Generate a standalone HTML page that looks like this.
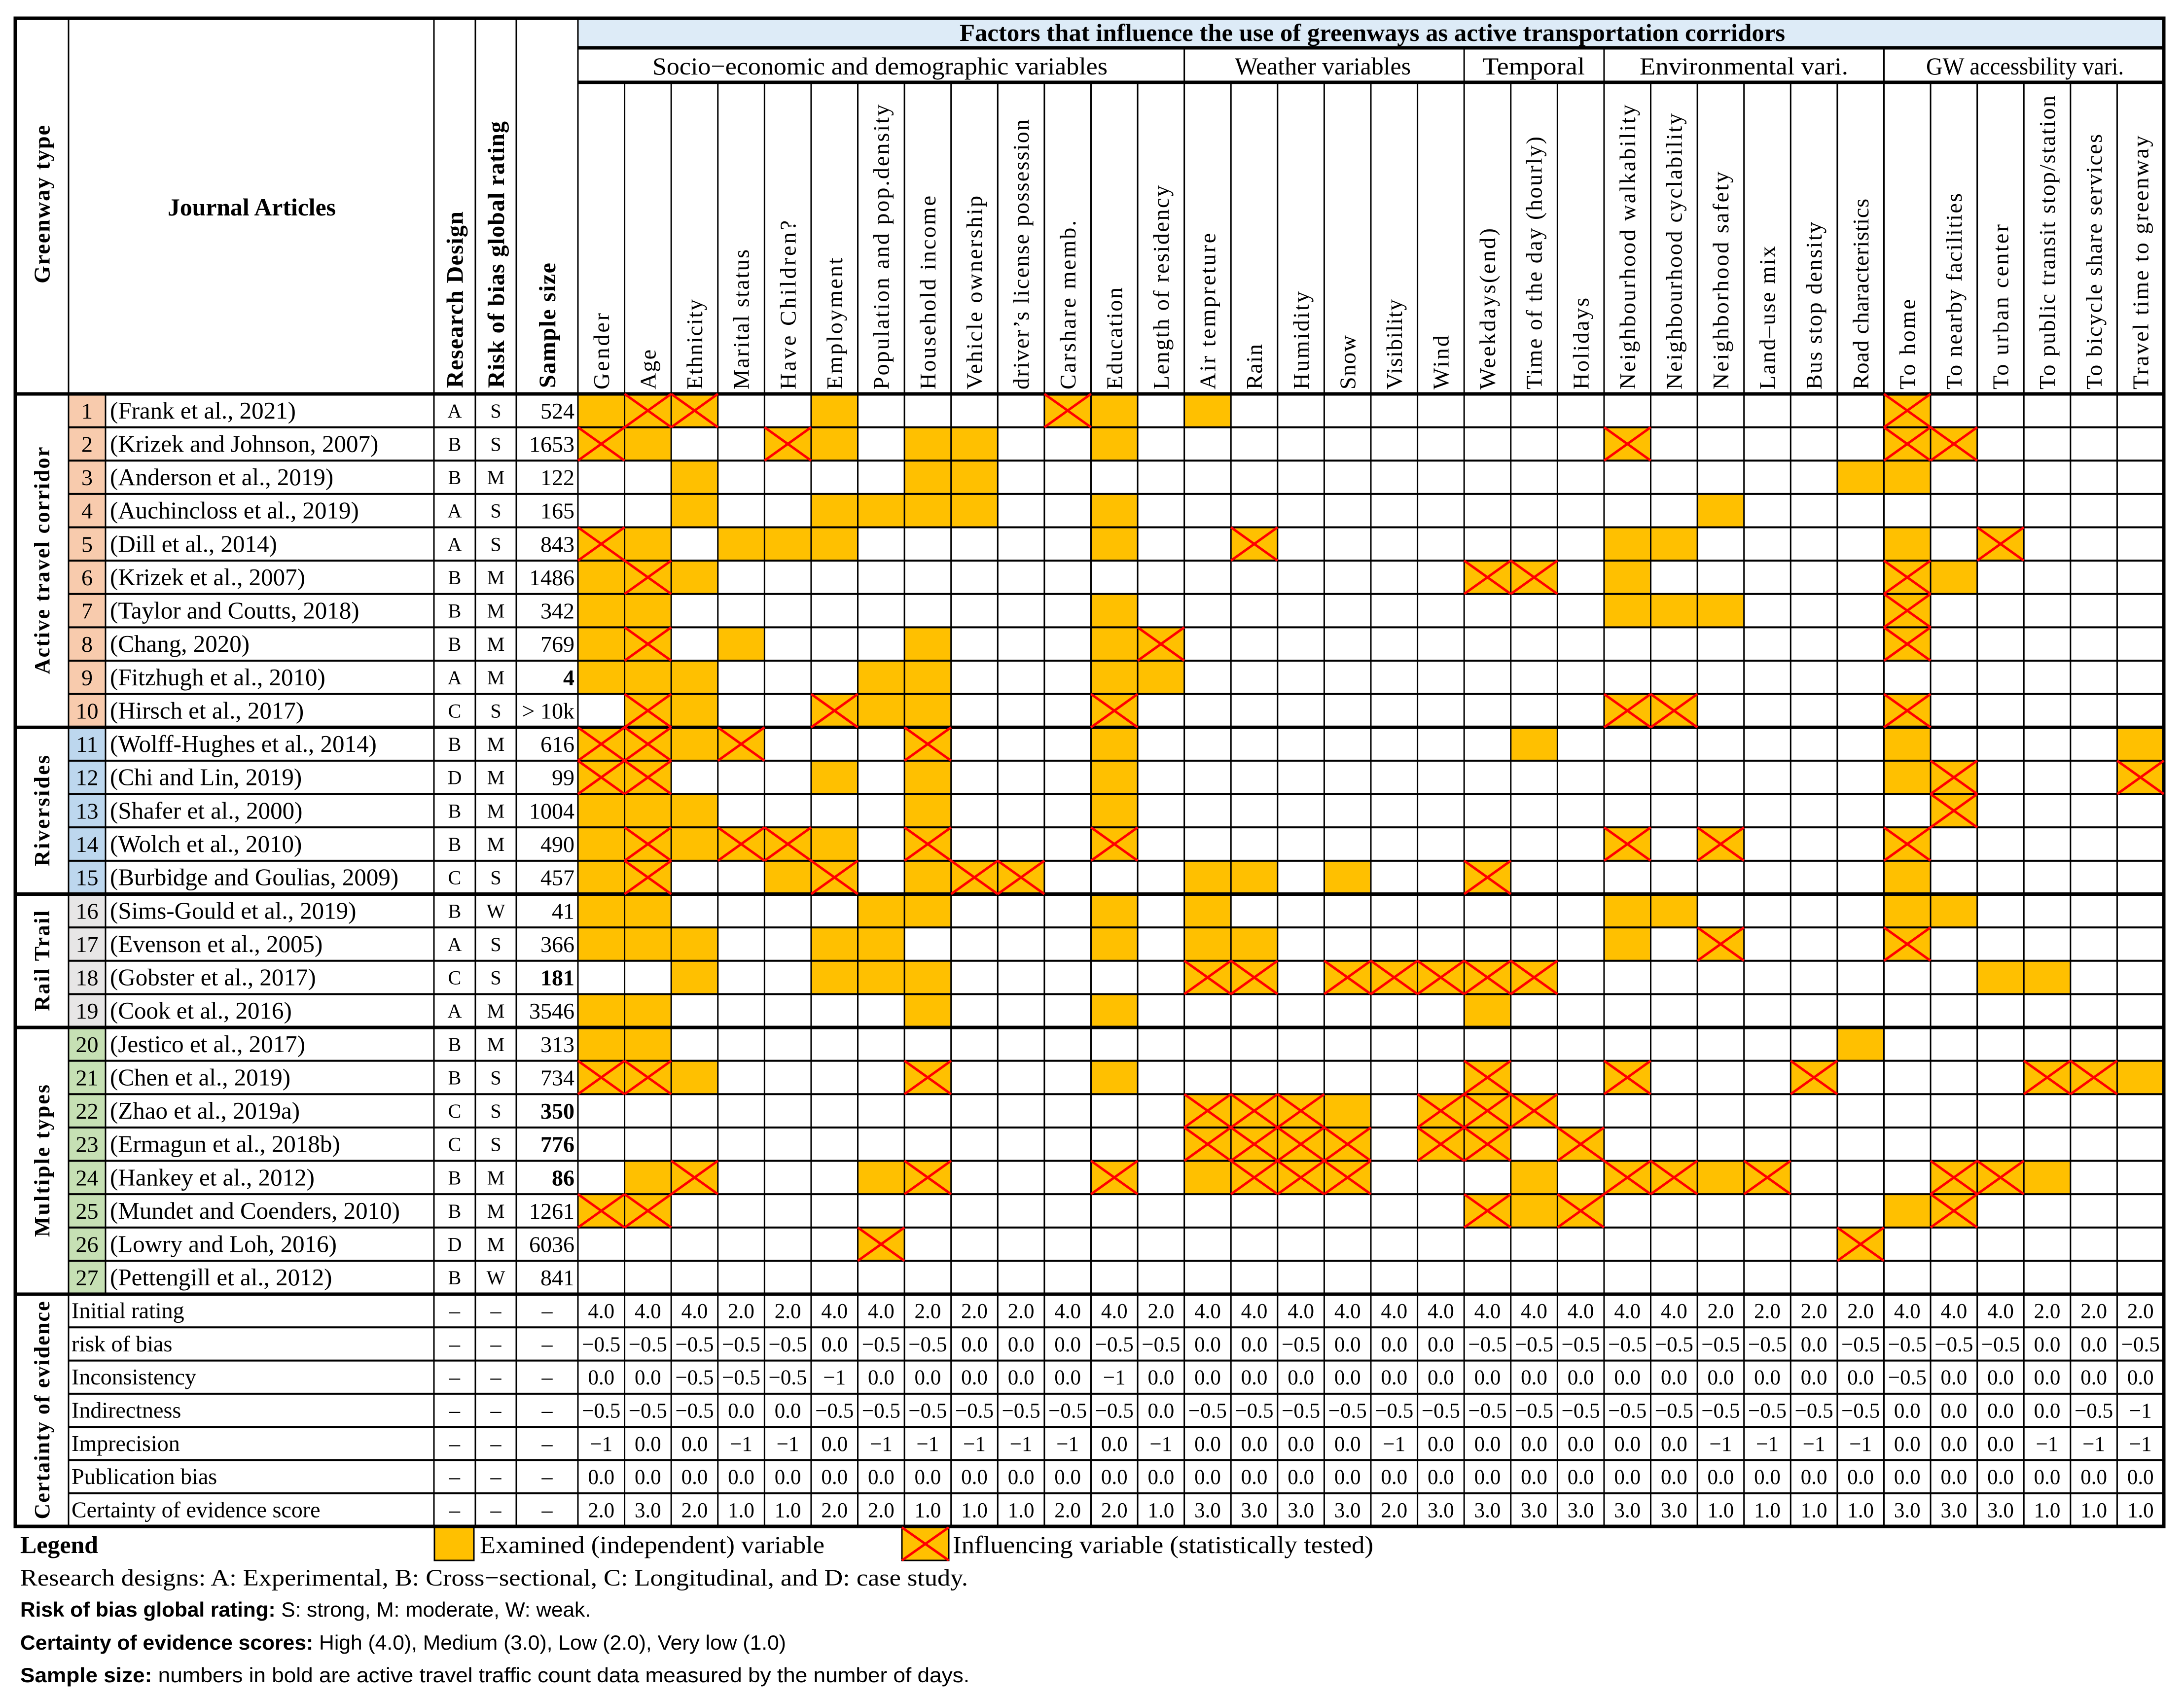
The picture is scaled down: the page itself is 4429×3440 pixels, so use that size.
<!DOCTYPE html>
<html><head><meta charset="utf-8"><title>Greenway factors table</title>
<style>html,body{margin:0;padding:0;background:#fff;overflow:hidden}svg{display:block}</style>
</head><body>
<svg id="chart" xmlns="http://www.w3.org/2000/svg" width="4429" height="3440" viewBox="0 0 4429 3440"></svg>
<script>
// ---------- data ----------
const factorNames = ["Gender","Age","Ethnicity","Marital status","Have Children?","Employment","Population and pop.density","Household income","Vehicle ownership","driver\u2019s license possession","Carshare memb.","Education","Length of residency","Air tempreture","Rain","Humidity","Snow","Visibility","Wind","Weekdays(end)","Time of the day (hourly)","Holidays","Neighbourhood walkability","Neighbourhood cyclability","Neighborhood safety","Land\u2013use mix","Bus stop density","Road characteristics","To home","To nearby facilities","To urban center","To public transit stop/station","To bicycle share services","Travel time to greenway"];
const headerTops = [635,709,607,506,447,523,212,397,397,242,447,583,376,473,698,591,680,607,680,463,277,604,212,230,348,499,450,403,607,392,455,194,272,275];
const groupLabels = ["Socio\u2212economic and demographic variables","Weather variables","Temporal","Environmental vari.","GW accessbility vari."];
const groupStarts = [0,13,19,22,28];
const groupEnds = [13,19,22,28,34];
const articleNames = ["(Frank et al., 2021)","(Krizek and Johnson, 2007)","(Anderson et al., 2019)","(Auchincloss et al., 2019)","(Dill et al., 2014)","(Krizek et al., 2007)","(Taylor and Coutts, 2018)","(Chang, 2020)","(Fitzhugh et al., 2010)","(Hirsch et al., 2017)","(Wolff-Hughes et al., 2014)","(Chi and Lin, 2019)","(Shafer et al., 2000)","(Wolch et al., 2010)","(Burbidge and Goulias, 2009)","(Sims-Gould et al., 2019)","(Evenson et al., 2005)","(Gobster et al., 2017)","(Cook et al., 2016)","(Jestico et al., 2017)","(Chen et al., 2019)","(Zhao et al., 2019a)","(Ermagun et al., 2018b)","(Hankey et al., 2012)","(Mundet and Coenders, 2010)","(Lowry and Loh, 2016)","(Pettengill et al., 2012)"];
const designs = ["A","B","B","A","A","B","B","B","A","C","B","D","B","B","C","B","A","C","A","B","B","C","C","B","B","D","B"];
const risks = ["S","S","M","S","S","M","M","M","M","S","M","M","M","M","S","W","S","S","M","M","S","S","S","M","M","M","W"];
const samples = ["524","1653","122","165","843","1486","342","769","4","> 10k","616","99","1004","490","457","41","366","181","3546","313","734","350","776","86","1261","6036","841"];
const sampleBold = [0,0,0,0,0,0,0,0,1,0,0,0,0,0,0,0,0,1,0,0,0,1,1,1,0,0,0];
// cells: '.' empty, 'b' examined, 'x' influencing ; segments | separated
const cells = [
"bxx..b....xb.|b.....|...|......|x.....",
"xb..xb.bb..b.|......|...|x.....|xx....",
"..b....bb....|......|...|.....b|b.....",
"..b..bbbb..b.|......|...|..b...|......",
"xb.bbb.....b.|.x....|...|bb....|b.x...",
"bxb..........|......|xx.|b.....|xb....",
"bb.........b.|......|...|bbb...|x.....",
"bx.b...b...bx|......|...|......|x.....",
"bbb...bb...bb|......|...|......|......",
".xb..xbb...x.|......|...|xx....|x.....",
"xxbx...x...b.|......|.b.|......|b....b",
"xx...b.b...b.|......|...|......|bx...x",
"bbb....b...b.|......|...|......|.x....",
"bxbxxb.x...x.|......|...|x.x...|x.....",
"bx..bx.bxx...|bb.b..|x..|......|b.....",
"bb....bb...b.|b.....|...|bb....|bb....",
"bbb..bb....b.|bb....|...|b.x...|x.....",
"..b..bbb.....|xx.xxx|xx.|......|..bb..",
"bb.....b...b.|......|b..|......|......",
"bb...........|......|...|.....b|......",
"xxb....x...b.|......|x..|x...x.|...xxb",
".............|xxxb.x|xx.|......|......",
".............|xxxx.x|x.x|......|......",
".bx...bx...x.|bxxx..|.b.|xxbx..|.xxb..",
"xx...........|......|xbx|......|bx....",
"......x......|......|...|.....x|......",
".............|......|...|......|......"
];
const greenwayTypes = ["Active travel corridor","Riversides","Rail Trail","Multiple types"];
const greenwayStart = [0,10,15,19];
const greenwayEnd = [10,15,19,27];
const greenwayColors = ["#F8CBAD","#BDD7EE","#E7E6E6","#C6E0B4"];
const greenwayLabelLen = [461,225,204,309];
const certLabels = ["Initial rating","risk of bias","Inconsistency","Indirectness","Imprecision","Publication bias","Certainty of evidence score"];
const initialRating = [4,4,4,2,2,4,4,2,2,2,4,4,2, 4,4,4,4,4,4, 4,4,4, 4,4,2,2,2,2, 4,4,4,2,2,2];
const riskOfBias = [-.5,-.5,-.5,-.5,-.5,0,-.5,-.5,0,0,0,-.5,-.5, 0,0,-.5,0,0,0, -.5,-.5,-.5, -.5,-.5,-.5,-.5,0,-.5, -.5,-.5,-.5,0,0,-.5];
const inconsistency = [0,0,-.5,-.5,-.5,-1,0,0,0,0,0,-1,0, 0,0,0,0,0,0, 0,0,0, 0,0,0,0,0,0, -.5,0,0,0,0,0];
const indirectness = [-.5,-.5,-.5,0,0,-.5,-.5,-.5,-.5,-.5,-.5,-.5,0, -.5,-.5,-.5,-.5,-.5,-.5, -.5,-.5,-.5, -.5,-.5,-.5,-.5,-.5,-.5, 0,0,0,0,-.5,-1];
const imprecision = [-1,0,0,-1,-1,0,-1,-1,-1,-1,-1,0,-1, 0,0,0,0,-1,0, 0,0,0, 0,0,-1,-1,-1,-1, 0,0,0,-1,-1,-1];
const publicationBias = [0,0,0,0,0,0,0,0,0,0,0,0,0, 0,0,0,0,0,0, 0,0,0, 0,0,0,0,0,0, 0,0,0,0,0,0];
const certaintyScore = [2,3,2,1,1,2,2,1,1,1,2,2,1, 3,3,3,3,2,3, 3,3,3, 3,3,1,1,1,1, 3,3,3,1,1,1];
const certRows = [initialRating,riskOfBias,inconsistency,indirectness,imprecision,publicationBias,certaintyScore];

// ---------- geometry ----------
const NS = "http://www.w3.org/2000/svg";
const svg = document.getElementById("chart");
const L = 31, R = 4388, TOP = 37, XG = 139, XN = 214, XRD = 880, XRK = 964, XSS = 1047, XF = 1172;
const CW = (R - XF) / 34;
const Y_TITLE = 97, Y_GROUP = 167, Y_DATA = 799, Y_CERT = 2625, Y_END = 3096;
const RH = (Y_CERT - Y_DATA) / 27, CH = (Y_END - Y_CERT) / 7;
const SERIF = '"Liberation Serif", "DejaVu Serif", serif';
const SANS = '"Liberation Sans", "DejaVu Sans", sans-serif';
const colX = i => XF + i * CW;
const rowY = r => Y_DATA + r * RH;
const certY = r => Y_CERT + r * CH;

function mk(tag, attrs, name) {
  const el = document.createElementNS(NS, tag);
  for (const k in attrs) el.setAttribute(k, attrs[k]);
  
  
  svg.appendChild(el);
  return el;
}
function txt(s, x, y, fs, name, extra) {
  const a = {x: x, y: y, 'font-size': fs, 'font-family': SERIF, fill: '#000'};
  if (extra) for (const k in extra) a[k] = extra[k];
  const el = mk('text', a, name);
  el.textContent = s;
  return el;
}
function line(x1, y1, x2, y2, w, name) {
  return mk('line', {x1: x1, y1: y1, x2: x2, y2: y2, stroke: '#000', 'stroke-width': w}, name);
}
function fmt(v) {
  if (v === -1) return "\u22121";
  return (v < 0 ? "\u2212" : "") + Math.abs(v).toFixed(1);
}

// ---------- fills ----------
mk('rect', {x: XF, y: TOP, width: R - XF, height: Y_TITLE - TOP, fill: '#DDEBF7'}, 'title-row-background');
for (let g = 0; g < greenwayTypes.length; g++) {
  for (let r = greenwayStart[g]; r < greenwayEnd[g]; r++) {
    mk('rect', {x: XG, y: rowY(r), width: XN - XG, height: RH, fill: greenwayColors[g]}, 'row-number-cell');
  }
}
const crosses = [];
for (let r = 0; r < cells.length; r++) {
  const row = cells[r].replace(/\|/g, '');
  for (let c = 0; c < row.length; c++) {
    const ch = row[c];
    if (ch === 'b' || ch === 'x') {
      mk('rect', {x: colX(c), y: rowY(r), width: CW, height: RH, fill: '#FFC000'}, ch === 'x' ? 'influencing-cell' : 'examined-cell');
      if (ch === 'x') crosses.push([r, c]);
    }
  }
}

// ---------- grid ----------
const TH = 3, TK = 7;
line(XF, Y_TITLE, R, Y_TITLE, TK, 'title-bottom-rule');
line(XF, Y_GROUP, R, Y_GROUP, TK, 'group-bottom-rule');
[XG, XRD, XRK, XSS, XF].forEach(x => line(x, TOP, x, Y_END, TH, 'column-rule'));
line(XN, Y_DATA, XN, Y_CERT, TH, 'number-column-rule');
for (let c = 1; c < 34; c++) {
  const isGroup = groupStarts.indexOf(c) >= 0;
  line(colX(c), isGroup ? Y_TITLE : Y_GROUP, colX(c), Y_END, TH, isGroup ? 'group-divider' : 'factor-column-rule');
}
for (let r = 1; r < 27; r++) {
  const isGroup = greenwayStart.indexOf(r) >= 0;
  line(isGroup ? L : XG, rowY(r), R, rowY(r), isGroup ? TK : 4, isGroup ? 'greenway-group-rule' : 'row-rule');
}
for (let r = 1; r < 7; r++) line(XG, certY(r), R, certY(r), 4, 'certainty-row-rule');
line(L, Y_DATA, R, Y_DATA, TK, 'header-bottom-rule');
line(L, Y_CERT, R, Y_CERT, TK, 'certainty-top-rule');
mk('rect', {x: L, y: TOP, width: R - L, height: Y_END - TOP, fill: 'none', stroke: '#000', 'stroke-width': TK}, 'table-border');

// ---------- crosses ----------
crosses.forEach(([r, c]) => {
  const x0 = colX(c), y0 = rowY(r);
  mk('path', {d: `M${x0},${y0}L${x0 + CW},${y0 + RH}M${x0 + CW},${y0}L${x0},${y0 + RH}`, stroke: '#FF0000', 'stroke-width': 5, fill: 'none'}, 'influence-cross');
});

// ---------- header text ----------
txt("Factors that influence the use of greenways as active transportation corridors", 1946, 83, 50, 'table-title', {'font-weight': 'bold', textLength: 1674, lengthAdjust: 'spacingAndGlyphs'});
const groupTextStart = [1323, 2504, 3006, 3325, 3906];
const groupTextLen = [923, 357, 208, 423, 401];
for (let g = 0; g < groupLabels.length; g++) {
  txt(groupLabels[g], groupTextStart[g], 151, 50, 'factor-group-label', {textLength: groupTextLen[g], lengthAdjust: 'spacingAndGlyphs'});
}
txt("Journal Articles", 340, 437, 50, 'journal-articles-header', {'font-weight': 'bold', textLength: 341, lengthAdjust: 'spacingAndGlyphs'});
function vtext(s, cx, bottom, len, fs, name, bold, adj) {
  const el = txt(s, 0, 0, fs, name, {transform: `translate(${cx + fs * 0.34},${bottom}) rotate(-90)`, textLength: len, lengthAdjust: adj || 'spacingAndGlyphs'});
  if (bold) el.setAttribute('font-weight', 'bold');
  return el;
}
vtext("Greenway type", 85, 575, 321, 46, 'greenway-type-header', true, 'spacing');
vtext("Research Design", (XRD + XRK) / 2, 787, 358, 48, 'research-design-header', true, 'spacing');
vtext("Risk of bias global rating", (XRK + XSS) / 2, 787, 541, 48, 'risk-of-bias-header', true, 'spacing');
vtext("Sample size", (XSS + XF) / 2, 787, 254, 48, 'sample-size-header', true, 'spacing');
for (let c = 0; c < 34; c++) {
  vtext(factorNames[c], colX(c) + CW / 2, 790, 790 - headerTops[c], 46, 'factor-header', false, 'spacing');
}

// ---------- greenway labels (rotated) ----------
for (let g = 0; g < greenwayTypes.length; g++) {
  const cy = (rowY(greenwayStart[g]) + rowY(greenwayEnd[g])) / 2;
  const len = greenwayLabelLen[g];
  vtext(greenwayTypes[g], 85, cy + len / 2, len, 44, 'greenway-type-label', true, 'spacing');
}
vtext("Certainty of evidence", 85, (Y_CERT + Y_END) / 2 + 221, 442, 44, 'certainty-section-label', true, 'spacing');

// ---------- row text ----------
for (let r = 0; r < 27; r++) {
  const yb = rowY(r) + RH / 2 + 16;
  txt(String(r + 1), (XG + XN) / 2, yb, 46, 'row-number', {'text-anchor': 'middle'});
  txt(articleNames[r], 223, yb, 49, 'article-citation');
  txt(designs[r], (XRD + XRK) / 2, yb - 2, 40, 'research-design-value', {'text-anchor': 'middle'});
  txt(risks[r], (XRK + XSS) / 2, yb - 2, 40, 'risk-of-bias-value', {'text-anchor': 'middle'});
  const s = txt(samples[r], 1165, yb, 46, 'sample-size-value', {'text-anchor': 'end'});
  if (sampleBold[r]) s.setAttribute('font-weight', 'bold');
}

// ---------- certainty rows ----------
for (let r = 0; r < 7; r++) {
  const yb = certY(r) + CH / 2 + 15;
  txt(certLabels[r], 145, yb, 46, 'certainty-row-label');
  [(XRD + XRK) / 2, (XRK + XSS) / 2, (XSS + XF) / 2].forEach(x => txt("\u2013", x, yb, 44, 'empty-dash', {'text-anchor': 'middle'}));
  for (let c = 0; c < 34; c++) {
    txt(fmt(certRows[r][c]), colX(c) + CW / 2, yb, 43, 'certainty-value', {'text-anchor': 'middle'});
  }
}

// ---------- legend ----------
txt("Legend", 41, 3150, 50, 'legend-title', {'font-weight': 'bold', textLength: 158, lengthAdjust: 'spacingAndGlyphs'});
mk('rect', {x: 881, y: 3098, width: 80, height: 67, fill: '#FFC000', stroke: '#000', 'stroke-width': 3}, 'legend-examined-swatch');
txt("Examined (independent) variable", 973, 3150, 50, 'legend-examined-label', {textLength: 699, lengthAdjust: 'spacingAndGlyphs'});
mk('rect', {x: 1829, y: 3098, width: 95, height: 67, fill: '#FFC000', stroke: '#000', 'stroke-width': 3}, 'legend-influencing-swatch');
mk('path', {d: 'M1829,3098L1924,3165M1924,3098L1829,3165', stroke: '#FF0000', 'stroke-width': 5, fill: 'none'}, 'legend-influencing-cross');
txt("Influencing variable (statistically tested)", 1932, 3150, 50, 'legend-influencing-label', {textLength: 853, lengthAdjust: 'spacingAndGlyphs'});
txt("Research designs: A: Experimental, B: Cross\u2212sectional, C: Longitudinal, and D: case study.", 41, 3216, 48, 'note-research-designs', {textLength: 1922, lengthAdjust: 'spacingAndGlyphs'});

function note(boldPart, rest, y, len, name) {
  const el = mk('text', {x: 41, y: y, 'font-size': 42, 'font-family': SANS, textLength: len, lengthAdjust: 'spacingAndGlyphs'}, name);
  const b = document.createElementNS(NS, 'tspan');
  b.setAttribute('font-weight', 'bold');
  b.textContent = boldPart;
  el.appendChild(b);
  const n = document.createElementNS(NS, 'tspan');
  n.textContent = rest;
  el.appendChild(n);
}
note("Risk of bias global rating:", " S: strong, M: moderate, W: weak.", 3279, 1157, 'note-risk-of-bias');
note("Certainty of evidence scores:", " High (4.0), Medium (3.0), Low (2.0), Very low (1.0)", 3346, 1553, 'note-certainty-scores');
note("Sample size:", " numbers in bold are active travel traffic count data measured by the number of days.", 3412, 1925, 'note-sample-size');
</script>
</body></html>
